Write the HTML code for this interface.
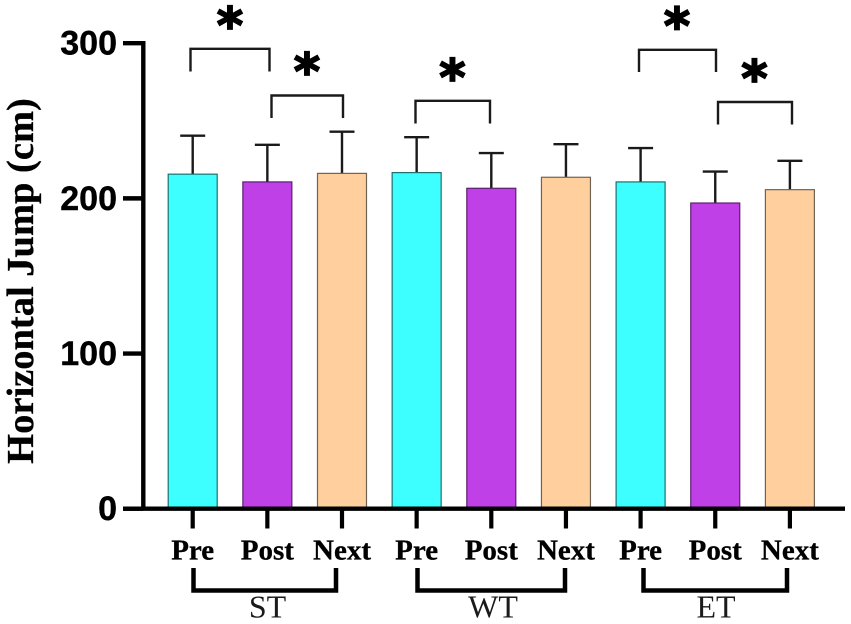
<!DOCTYPE html>
<html lang="en">
<head>
<meta charset="utf-8">
<title>Horizontal Jump</title>
<style>
html,body{margin:0;padding:0;background:#fff;width:851px;height:624px;overflow:hidden}
svg{display:block}
.ytick{font:bold 34px "Liberation Sans",sans-serif;fill:#000;stroke:#000;stroke-width:.4;text-anchor:end}
.xtick{font:bold 29px "Liberation Serif",serif;fill:#000;stroke:#000;stroke-width:.3;text-anchor:middle}
.group{font:32px "Liberation Serif",serif;fill:#1a1a1a;text-anchor:middle}
.title{font:bold 38.5px "Liberation Serif",serif;fill:#000;stroke:#000;stroke-width:.3;text-anchor:middle}
.star{font:bold 50px "DejaVu Sans",sans-serif;fill:#000;stroke:#000;stroke-width:1.8;text-anchor:middle}
</style>
</head>
<body>
<svg id="chart" xmlns="http://www.w3.org/2000/svg" width="851" height="624" viewBox="0 0 851 624">
  <text class="title" transform="translate(33,281) rotate(-90)">Horizontal Jump (cm)</text>
  <g id="bars"></g>
  <g id="axes"></g>
  <g fill="none" stroke="#1a1a1a" stroke-width="2.4">
    <path d="M190.5 71.5V48.8H269.5V71.5"/>
    <path d="M271.5 118V95.5H343V118"/>
    <path d="M415.5 123.5V100.8H490V123.5"/>
    <path d="M639 72V49.8H716V72"/>
    <path d="M718 124.5V102H792V124.5"/>
  </g>
  <g>
    <text class="star" x="230" y="43">*</text>
    <text class="star" x="307" y="89">*</text>
    <text class="star" x="452.5" y="95">*</text>
    <text class="star" x="677" y="43.5">*</text>
    <text class="star" x="754.5" y="96">*</text>
  </g>
  <g fill="none" stroke="#000" stroke-width="4.5">
    <path d="M193.5 568V590.5H336V568"/>
    <path d="M417.5 568V590.5H565V568"/>
    <path d="M643.5 568V590.5H787V568"/>
  </g>
  <g>
    <text class="group" x="267.5" y="617.5">ST</text>
    <text class="group" x="493" y="617.5">WT</text>
    <text class="group" x="716" y="617.5">ET</text>
  </g>
</svg>
<script>
const categories = ['Pre','Post','Next','Pre','Post','Next','Pre','Post','Next'];
const groups = ['ST','ST','ST','WT','WT','WT','ET','ET','ET'];
const means = [215.6,210.6,216.1,216.6,206.5,213.6,210.6,197.0,205.6];
const errors = [24.8,23.9,26.9,22.8,22.7,21.3,21.8,20.3,18.6];
const yTicks = [0,100,200,300];

const NS = 'http://www.w3.org/2000/svg';
const fills = {Pre:'#3EFFFF',Post:'#C040E8',Next:'#FFD09E'};
const edges = {Pre:'#1f6f70',Post:'#5a2070',Next:'#6f6355'};
const yScale = v => 508.7 - v * 1.55167;
const xScale = i => 192.7 + i * 74.65;
const barWidth = 49;
const barsG = document.getElementById('bars');
const axesG = document.getElementById('axes');

function mk(tag, parent, attrs) {
  const el = document.createElementNS(NS, tag);
  for (const k in attrs) el.setAttribute(k, attrs[k]);
  parent.appendChild(el);
  return el;
}

categories.forEach((c, i) => {
  const key = (groups[i] + '-' + c).toLowerCase();
  const x = xScale(i);
  const yTop = yScale(means[i]);
  const yErr = yScale(means[i] + errors[i]);

  const stem = mk('line', barsG, {x1:x, x2:x, y1:yErr, y2:yTop, stroke:'#1a1a1a', 'stroke-width':2.4});
  
  

  const cap = mk('line', barsG, {x1:x-12.5, x2:x+12.5, y1:yErr, y2:yErr, stroke:'#1a1a1a', 'stroke-width':2.4});
  
  

  const bar = mk('rect', barsG, {x:x-barWidth/2, y:yTop, width:barWidth, height:yScale(0)-yTop, fill:fills[c], stroke:edges[c], 'stroke-width':1.2});
  
  

  const tick = mk('line', axesG, {x1:x, x2:x, y1:yScale(0), y2:528.5, stroke:'#000', 'stroke-width':4.2});
  
  

  const label = mk('text', axesG, {x:x, y:559.3, class:'xtick'});
  label.textContent = c;
  
  
});

yTicks.forEach(v => {
  const y = yScale(v);
  const tick = mk('line', axesG, {x1:123, x2:143.3, y1:y, y2:y, stroke:'#000', 'stroke-width':4.4});
  
  

  const label = mk('text', axesG, {x:117, y:y+11.5, class:'ytick'});
  label.textContent = v;
  
  
});

const yAxis = mk('line', axesG, {x1:143.3, x2:143.3, y1:yScale(300)-2.2, y2:yScale(0), stroke:'#000', 'stroke-width':4.4});



const xAxis = mk('line', axesG, {x1:123, x2:845, y1:yScale(0), y2:yScale(0), stroke:'#000', 'stroke-width':4.4});


</script>
</body>
</html>
